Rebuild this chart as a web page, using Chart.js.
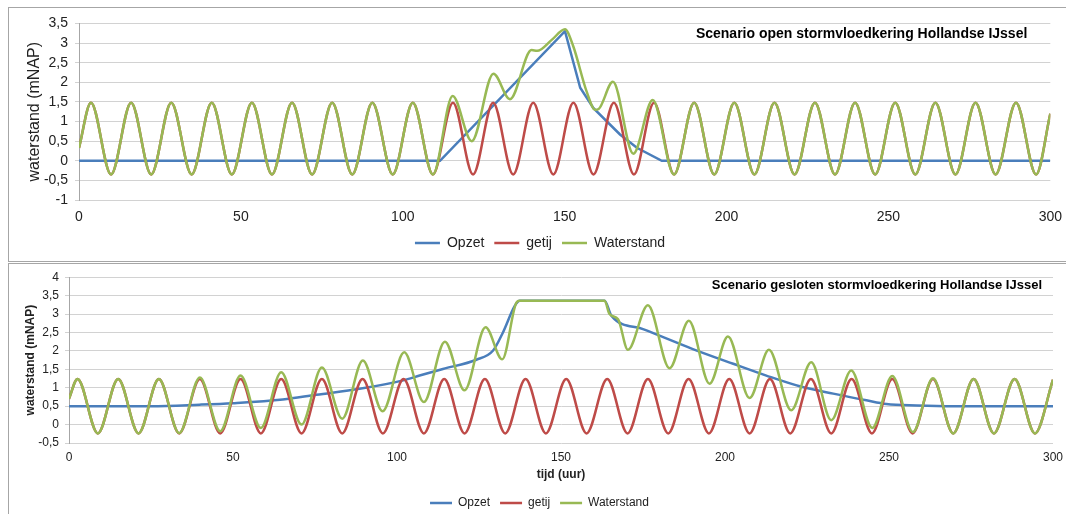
<!DOCTYPE html>
<html>
<head>
<meta charset="utf-8">
<script src="https://cdn.jsdelivr.net/npm/chart.js@4.4.1/dist/chart.umd.min.js"></script>
<style>
  html, body { margin: 0; padding: 0; background: #fff; width: 1066px; height: 514px; overflow: hidden; }
  .box { position: absolute; left: 8px; width: 1100px; border: 1px solid #a6a6a6; }
  #box1 { top: 7px; height: 253px; }
  #box2 { top: 263px; height: 300px; }
  canvas { position: absolute; left: 0; top: 0; }
</style>
</head>
<body>
<div class="box" id="box1"><canvas id="topChart" width="1062" height="252"></canvas></div>
<div class="box" id="box2"><canvas id="bottomChart" width="1061" height="255"></canvas></div>
<script>
// ---- Scenario open (top chart): hours and water levels
const topOpzetT = [0, 111.5, 150.1, 154.8, 158.9, 167.1, 172.3, 180, 300];
const topOpzetV = [0, 0, 3.3, 1.86, 1.34, 0.67, 0.33, 0, 0];

const topGetijT = [0, 3.7, 9.9, 16.1, 22.3, 28.5, 34.8, 41.0, 47.2, 53.4, 59.6, 65.8, 72.0, 78.2, 84.4, 90.6,
    96.9, 103.1, 109.3, 115.5, 121.7, 127.9, 134.1, 140.3, 146.5, 152.7, 158.9, 165.2, 171.4, 177.6, 183.8,
    190.0, 196.2, 202.4, 208.6, 214.8, 221.0, 227.3, 233.5, 239.7, 245.9, 252.1, 258.3, 264.5, 270.7, 276.9,
    283.1, 289.4, 295.6, 300];
const topGetijV = [0.33, 1.48, -0.35, 1.48, -0.35, 1.48, -0.35, 1.48, -0.35, 1.48, -0.35, 1.48, -0.35, 1.48, -0.35,
    1.48, -0.35, 1.48, -0.35, 1.48, -0.35, 1.48, -0.35, 1.48, -0.35, 1.48, -0.35, 1.48, -0.35, 1.48, -0.35,
    1.48, -0.35, 1.48, -0.35, 1.48, -0.35, 1.48, -0.35, 1.48, -0.35, 1.48, -0.35, 1.48, -0.35, 1.48, -0.35,
    1.48, -0.35, 1.2];

const topWaterT = [0, 3.7, 9.9, 16.1, 22.3, 28.5, 34.8, 41.0, 47.2, 53.4, 59.6, 65.8, 72.0, 78.2, 84.4, 90.6,
    96.9, 103.1, 109.3, 115.4, 121.3, 128.0, 133.1, 139.8, 141.5, 146.0, 150.1, 152.6, 156.8, 159.4, 160.5,
    164.9, 171.2, 177.2, 183.8, 190.0, 196.2, 202.4, 208.6, 214.8, 221.0, 227.3, 233.5, 239.7, 245.9, 252.1,
    258.3, 264.5, 270.7, 276.9, 283.1, 289.4, 295.6, 300];
const topWaterV = [0.33, 1.48, -0.35, 1.48, -0.35, 1.48, -0.35, 1.48, -0.35, 1.48, -0.35, 1.48, -0.35, 1.48, -0.35,
    1.48, -0.35, 1.48, -0.35, 1.65, 0.50, 2.22, 1.57, 2.82, 2.80, 3.08, 3.35, 2.93, 1.76, 1.30, 1.32,
    2.01, 0.18, 1.55, -0.35, 1.48, -0.35, 1.48, -0.35, 1.48, -0.35, 1.48, -0.35, 1.48, -0.35, 1.48,
    -0.35, 1.48, -0.35, 1.48, -0.35, 1.48, -0.35, 1.2];

// ---- Scenario gesloten (bottom chart)
const botOpzetT = [0, 25, 39.8, 50, 65.2, 75.4, 88.6, 101.9, 106.9, 114.0, 124.2, 129.3, 132.3, 135.9, 137.4,
    163.3, 165.4, 175, 190.2, 202.5, 212.6, 222.8, 233, 243.1, 249.2, 258.4, 270, 300];
const botOpzetV = [0.50, 0.50, 0.54, 0.58, 0.68, 0.81, 0.97, 1.20, 1.33, 1.51, 1.76, 2.01, 2.50, 3.22, 3.36,
    3.36, 2.95, 2.59, 2.05, 1.65, 1.33, 1.04, 0.84, 0.66, 0.56, 0.52, 0.50, 0.50];

const botGetijT = [0, 2.6, 8.8, 15.0, 21.2, 27.4, 33.6, 39.9, 46.1, 52.3, 58.5, 64.7, 70.9, 77.1, 83.3, 89.5,
    95.7, 102.0, 108.2, 114.4, 120.6, 126.8, 133.0, 139.2, 145.4, 151.6, 157.8, 164.1, 170.3, 176.5, 182.7,
    188.9, 195.1, 201.3, 207.5, 213.7, 219.9, 226.2, 232.4, 238.6, 244.8, 251.0, 257.2, 263.4, 269.6, 275.8,
    282.0, 288.3, 294.5, 300];
const botGetijV = [0.70, 1.24, -0.24, 1.24, -0.24, 1.24, -0.24, 1.24, -0.24, 1.24, -0.24, 1.24, -0.24, 1.24, -0.24,
    1.24, -0.24, 1.24, -0.24, 1.24, -0.24, 1.24, -0.24, 1.24, -0.24, 1.24, -0.24, 1.24, -0.24, 1.24, -0.24,
    1.24, -0.24, 1.24, -0.24, 1.24, -0.24, 1.24, -0.24, 1.24, -0.24, 1.24, -0.24, 1.24, -0.24, 1.24,
    -0.24, 1.24, -0.24, 1.22];

const botWaterT = [0, 2.6, 8.8, 15.0, 21.2, 27.4, 33.6, 39.9, 46.1, 52.3, 58.5, 64.7, 70.9, 77.1, 83.3, 89.6,
    95.6, 102.2, 108.2, 114.6, 120.6, 127.0, 132.1, 136.4, 137.4, 163.3, 164.8, 167.4, 170.4, 176.5, 183.1,
    189.0, 195.3, 200.9, 207.5, 213.4, 220.2, 226.3, 232.4, 238.5, 244.9, 251.0, 257.3, 263.4, 269.6, 275.8,
    282.0, 288.3, 294.5, 300];
const botWaterV = [0.70, 1.24, -0.24, 1.24, -0.24, 1.24, -0.23, 1.28, -0.18, 1.33, -0.09, 1.42, 0.0, 1.55, 0.16,
    1.74, 0.36, 1.96, 0.61, 2.25, 0.93, 2.64, 1.77, 3.31, 3.36, 3.36, 3.00, 2.86, 2.03, 3.24, 1.53,
    2.82, 1.11, 2.39, 0.72, 2.03, 0.39, 1.69, 0.12, 1.47, -0.09, 1.32, -0.20, 1.26, -0.24, 1.24,
    -0.24, 1.24, -0.24, 1.22];

const seriesLabels = ['Opzet', 'getij', 'Waterstand'];
const seriesColors = ['#4a7ebb', '#be4b48', '#98b954'];

Chart.defaults.font.family = '"Liberation Sans", Arial, sans-serif';
Chart.defaults.color = '#222';

// bold title drawn inside the plot area, top right
const cornerTitle = {
    id: 'cornerTitle',
    afterDraw(chart, args, opts) {
        const { ctx, chartArea } = chart;
        ctx.save();
        ctx.font = 'bold ' + opts.size + 'px "Liberation Sans", Arial, sans-serif';
        ctx.fillStyle = '#000';
        ctx.textAlign = 'right';
        ctx.textBaseline = 'middle';
        ctx.fillText(opts.text, chartArea.right - opts.dx, chartArea.top + opts.dy);
        ctx.restore();
    }
};

function toPoints(t, v) {
    return t.map((x, i) => ({ x: x, y: v[i] }));
}

function lineSet(i, t, v, smooth) {
    return {
        label: seriesLabels[i],
        data: toPoints(t, v),
        borderColor: seriesColors[i],
        backgroundColor: seriesColors[i],
        borderWidth: 2.5,
        pointRadius: 0,
        fill: false,
        order: 3 - i, // Waterstand on top, like Excel
        cubicInterpolationMode: smooth ? 'monotone' : 'default',
        tension: 0
    };
}

function chartOptions(o) {
    return {
        responsive: false,
        animation: false,
        layout: { padding: { top: 12, left: 0, right: 0, bottom: 0 } },
        scales: {
            x: {
                type: 'linear',
                min: 0,
                max: 300,
                ticks: { stepSize: 50, padding: o.xTickPad, maxRotation: 0, font: { size: o.font } },
                grid: { display: false, drawTicks: false },
                border: { display: false },
                title: {
                    display: !!o.xTitle,
                    text: o.xTitle || '',
                    font: { weight: 'bold', size: o.font },
                    padding: { top: 0, bottom: o.xTitlePad || 0 }
                },
                afterFit: s => { s.height = o.xHeight; }
            },
            y: {
                min: o.yMin,
                max: o.yMax,
                ticks: {
                    stepSize: 0.5,
                    autoSkip: false,
                    padding: o.yTickPad,
                    font: { size: o.font },
                    callback: v => String(v).replace('.', ',')
                },
                grid: { color: '#d2d2d2', tickLength: 4 },
                border: { display: true, color: '#a6a6a6' },
                title: {
                    display: true,
                    text: 'waterstand (mNAP)',
                    font: { weight: o.yBold ? 'bold' : 'normal', size: o.yTitleSize },
                    padding: { top: o.yTitlePad, bottom: 0 }
                },
                afterFit: s => { s.width = o.yWidth; }
            }
        },
        plugins: {
            legend: {
                position: 'bottom',
                labels: {
                    usePointStyle: true,
                    pointStyle: 'line',
                    pointStyleWidth: o.swatch,
                    padding: 10,
                    font: { size: o.font },
                    sort: (a, b) => a.datasetIndex - b.datasetIndex
                }
            },
            tooltip: { enabled: false },
            cornerTitle: { text: o.title, dx: o.titleDx, dy: o.titleDy, size: o.titleSize }
        }
    };
}

const topChart = new Chart(document.getElementById('topChart').getContext('2d'), {
    type: 'line',
    data: {
        datasets: [
            lineSet(0, topOpzetT, topOpzetV, false),
            lineSet(1, topGetijT, topGetijV, true),
            lineSet(2, topWaterT, topWaterV, true)
        ]
    },
    options: chartOptions({
        font: 14, yMin: -1, yMax: 3.5, yWidth: 70, yTickPad: 7, yTitlePad: 16, yTitleSize: 16, yBold: false,
        xTickPad: 9, xHeight: 26, swatch: 25,
        title: 'Scenario open stormvloedkering Hollandse IJssel', titleSize: 14, titleDx: 23, titleDy: 11
    }),
    plugins: [cornerTitle]
});

const bottomChart = new Chart(document.getElementById('bottomChart').getContext('2d'), {
    type: 'line',
    data: {
        datasets: [
            lineSet(0, botOpzetT, botOpzetV, true),
            lineSet(1, botGetijT, botGetijV, true),
            lineSet(2, botWaterT, botWaterV, true)
        ]
    },
    options: chartOptions({
        font: 12, yMin: -0.5, yMax: 4, yWidth: 60, yTickPad: 6, yTitlePad: 14, yTitleSize: 12, yBold: true,
        xTickPad: 7, xHeight: 44, xTitle: 'tijd (uur)', xTitlePad: 5, swatch: 22,
        title: 'Scenario gesloten stormvloedkering Hollandse IJssel', titleSize: 13, titleDx: 11, titleDy: 8
    }),
    plugins: [cornerTitle]
});
</script>
</body>
</html>
